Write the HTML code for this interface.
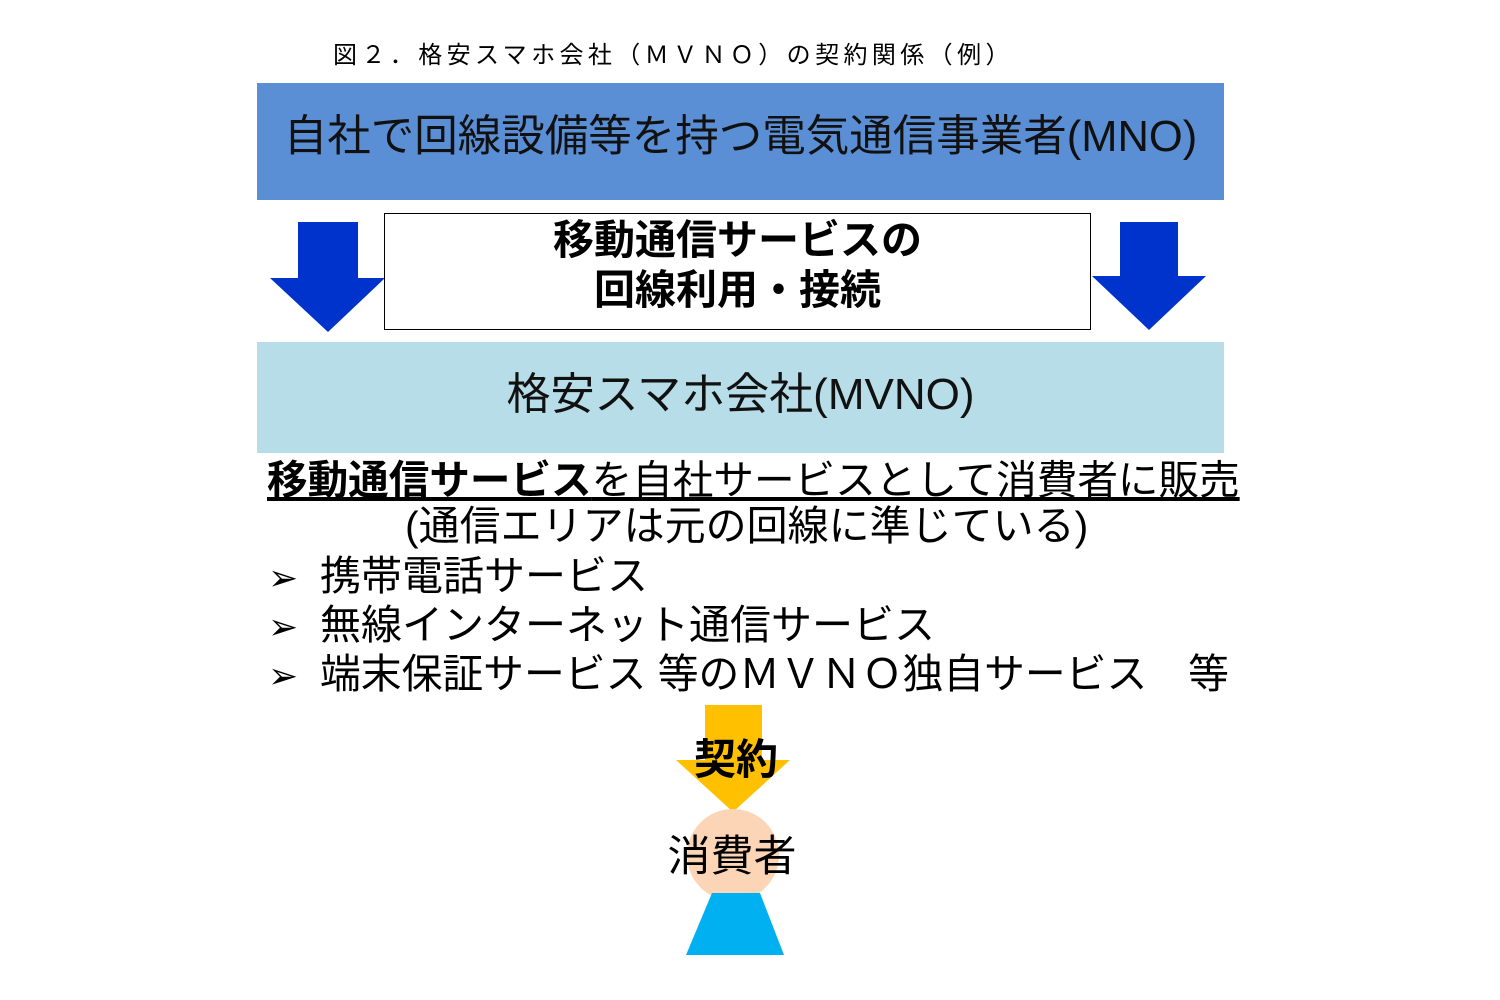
<!DOCTYPE html>
<html><head><meta charset="utf-8"><style>
html,body{margin:0;padding:0;background:#fff;}
body{width:1500px;height:1000px;position:relative;overflow:hidden;font-family:"Liberation Sans","Noto Sans CJK JP",sans-serif;color:#000;}
.a{position:absolute;white-space:nowrap;line-height:1;}
</style></head><body>
<div class="a" style="left:333px;top:44px;font-size:24px;letter-spacing:4.4px;">図２．格安スマホ会社（ＭＶＮＯ）の契約関係（例）</div>

<div class="a" style="left:257px;top:83px;width:967px;height:117px;background:#5a8fd5;"></div>
<div class="a" style="left:257px;top:116px;width:967px;text-align:center;font-size:43.5px;color:#111;">自社で回線設備等を持つ電気通信事業者(MNO)</div>

<svg class="a" style="left:0;top:0" width="1500" height="1000">
<polygon points="298,222 358,222 358,278 385,278 328,332 270,278 298,278" fill="#0033cc"/>
<polygon points="1120,222 1178,222 1178,276 1206,276 1149,330 1092,276 1120,276" fill="#0033cc"/>
<polygon points="705,705 762,705 762,760 790,760 733,812 676,760 705,760" fill="#ffc000"/>
<circle cx="733" cy="855" r="46" fill="#fbd5b5"/>
<polygon points="712,893 760,893 784,955 686,955" fill="#00b0f0"/>
</svg>

<div class="a" style="left:384px;top:213px;width:705px;height:115px;border:1.5px solid #000;background:#fff;"></div>
<div class="a" style="left:384px;top:215px;width:707px;text-align:center;font-size:41px;font-weight:bold;line-height:50px;">移動通信サービスの<br>回線利用・接続</div>

<div class="a" style="left:257px;top:342px;width:967px;height:111px;background:#b7dde8;"></div>
<div class="a" style="left:257px;top:373px;width:967px;text-align:center;font-size:44px;color:#111;">格安スマホ会社(MVNO)</div>

<div class="a" style="left:267px;top:460px;font-size:40.6px;text-decoration:underline;"><b>移動通信サービス</b>を自社サービスとして消費者に販売</div>
<div class="a" style="left:405px;top:506px;font-size:41px;">(通信エリアは元の回線に準じている)</div>
<div class="a" style="left:268px;top:556px;font-size:41px;"><span style="display:inline-block;width:52px;font-size:36px;">➢</span>携帯電話サービス</div>
<div class="a" style="left:268px;top:605px;font-size:41px;"><span style="display:inline-block;width:52px;font-size:36px;">➢</span>無線インターネット通信サービス</div>
<div class="a" style="left:268px;top:654px;font-size:40.8px;"><span style="display:inline-block;width:52px;font-size:36px;">➢</span>端末保証サービス 等のＭＶＮＯ独自サービス　等</div>

<div class="a" style="left:636px;top:739px;width:200px;text-align:center;font-size:42px;font-weight:bold;">契約</div>
<div class="a" style="left:632px;top:836px;width:200px;text-align:center;font-size:43px;">消費者</div>
</body></html>
